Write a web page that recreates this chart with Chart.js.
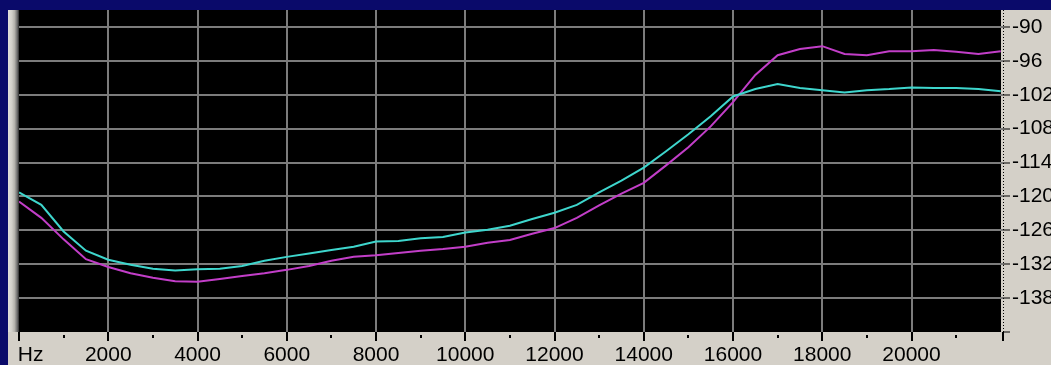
<!DOCTYPE html>
<html><head><meta charset="utf-8">
<script src="https://cdn.jsdelivr.net/npm/chart.js@4"></script>
<style>
html,body{margin:0;padding:0;background:#0a0a6a;width:1051px;height:365px;overflow:hidden}
#panel{position:absolute;left:8px;top:10px;width:1043px;height:355px;background:#d4d0c8}
#edge{position:absolute;left:8px;top:10px;width:11px;height:322px;background:linear-gradient(to right,#e2e0da 0,#d2d0ca 35%,#b4b2ac 60%,#6a6a6a 85%,#2a2a2a 100%)}
#wrap{position:absolute;left:0;top:0;width:1051px;height:365px}
</style></head><body>
<div id="panel"></div><div id="edge"></div>
<div id="wrap"><canvas id="c" width="1051" height="365"></canvas></div>
<script>
// frequency (Hz)
const freqHz = [0,500,1000,1500,2000,2500,3000,3500,4000,4500,5000,5500,6000,6500,7000,7500,8000,8500,9000,9500,10000,10500,11000,11500,12000,12500,13000,13500,14000,14500,15000,15500,16000,16500,17000,17500,18000,18500,19000,19500,20000,20500,21000,21500,22000];
// level (dB), cyan trace
const cyanDb = [-119.3,-121.5,-126.2,-129.6,-131.2,-132.1,-132.8,-133.1,-132.9,-132.8,-132.3,-131.4,-130.7,-130.1,-129.5,-128.9,-128.0,-127.9,-127.4,-127.2,-126.4,-125.9,-125.2,-124.0,-122.9,-121.5,-119.3,-117.2,-114.9,-112.0,-109.0,-105.8,-102.3,-101.0,-100.1,-100.8,-101.2,-101.6,-101.2,-101.0,-100.7,-100.8,-100.8,-101.0,-101.4];
// level (dB), magenta trace
const magentaDb = [-120.9,-123.8,-127.6,-131.1,-132.5,-133.6,-134.4,-135.0,-135.1,-134.6,-134.1,-133.6,-133.0,-132.3,-131.4,-130.7,-130.4,-130.0,-129.6,-129.3,-128.9,-128.2,-127.7,-126.6,-125.6,-123.8,-121.6,-119.5,-117.6,-114.5,-111.3,-107.6,-103.3,-98.5,-95.0,-93.9,-93.4,-94.8,-95.0,-94.3,-94.3,-94.1,-94.4,-94.8,-94.3];
// axis ticks
const xTickValues = [0,1000,2000,3000,4000,5000,6000,7000,8000,9000,10000,11000,12000,13000,14000,15000,16000,17000,18000,19000,20000,21000,22050];
const xTickLabels = ['Hz','','2000','','4000','','6000','','8000','','10000','','12000','','14000','','16000','','18000','','20000','',''];
const xGridValues = [2000,4000,6000,8000,10000,12000,14000,16000,18000,20000];
const yTickValues = [-144,-138,-132,-126,-120,-114,-108,-102,-96,-90];
const yTickLabels = ['','-138','-132','-126','-120','-114','-108','-102','-96','-90'];
const xRange = [0,22050];
const yRange = [-144,-87];

Chart.defaults.font.family = '"Liberation Sans", Arial, sans-serif';
Chart.defaults.font.size = 21;
Chart.defaults.color = '#000';

const blackBg = {
  id:'blackBg',
  beforeDraw(chart){
    const a = chart.chartArea, c = chart.ctx;
    c.save(); c.fillStyle = '#000';
    c.fillRect(a.left, a.top, a.right - a.left - 2, a.bottom - a.top);
    c.restore();
  },
  afterDraw(chart){
    const a = chart.chartArea, c = chart.ctx;
    c.save(); c.strokeStyle = '#000'; c.lineWidth = 1; c.setLineDash([1,2]);
    c.beginPath(); c.moveTo(a.right + 0.5, a.top); c.lineTo(a.right + 0.5, a.bottom); c.stroke();
    c.restore();
  }
};

const isMinor = v => xTickLabels[xTickValues.indexOf(v)] === '' && v !== xTickValues[xTickValues.length-1];

new Chart(document.getElementById('c'), {
  type:'line',
  data:{datasets:[
    {data: freqHz.map((f,i)=>({x:f,y:cyanDb[i]})), borderColor:'#3ed6cd', borderWidth:2, pointRadius:0, tension:0, fill:false},
    {data: freqHz.map((f,i)=>({x:f,y:magentaDb[i]})), borderColor:'#c23ec8', borderWidth:2, pointRadius:0, tension:0, fill:false}
  ]},
  options:{
    responsive:false, animation:false, events:[],
    layout:{padding:{left:19, top:10, right:0, bottom:0}},
    plugins:{legend:{display:false}, tooltip:{enabled:false}},
    scales:{
      x:{
        type:'linear', min:xRange[0], max:xRange[1],
        afterBuildTicks: s => { s.ticks = xTickValues.map(v => ({value:v})); },
        afterFit: s => { s.height = 33; s.paddingLeft = 0; s.paddingRight = 0; },
        border:{display:false},
        grid:{
          color: ctx => (ctx.tick && xGridValues.includes(ctx.tick.value)) ? '#7c7c7c' : 'rgba(0,0,0,0)',
          lineWidth:2, drawTicks:true, tickLength:9, tickWidth:2, tickColor:'#000',
          tickBorderDash: ctx => (ctx.tick && isMinor(ctx.tick.value)) ? [0.01,3,3,60] : []
        },
        ticks:{
          autoSkip:false, maxRotation:0, minRotation:0, padding:2,
          callback: (v) => {
            const i = xTickValues.indexOf(v);
            const t = i >= 0 ? xTickLabels[i] : '';
            return t === 'Hz' ? '\u00a0\u00a0\u00a0\u00a0Hz' : t;
          }
        }
      },
      y:{
        type:'linear', position:'right', min:yRange[0], max:yRange[1],
        afterBuildTicks: s => { s.ticks = yTickValues.map(v => ({value:v})); },
        afterFit: s => { s.width = 48; s.paddingTop = 0; s.paddingBottom = 0; },
        border:{display:false},
        grid:{
          color: ctx => (ctx.tick && yTickLabels[yTickValues.indexOf(ctx.tick.value)] !== '') ? '#7c7c7c' : 'rgba(0,0,0,0)',
          lineWidth:2, drawTicks:true, tickLength:7, tickWidth:1, tickColor:'#000'
        },
        ticks:{
          padding:2,
          callback: (v) => { const i = yTickValues.indexOf(v); return i >= 0 ? yTickLabels[i] : ''; }
        }
      }
    }
  },
  plugins:[blackBg]
});
</script>
</body></html>
